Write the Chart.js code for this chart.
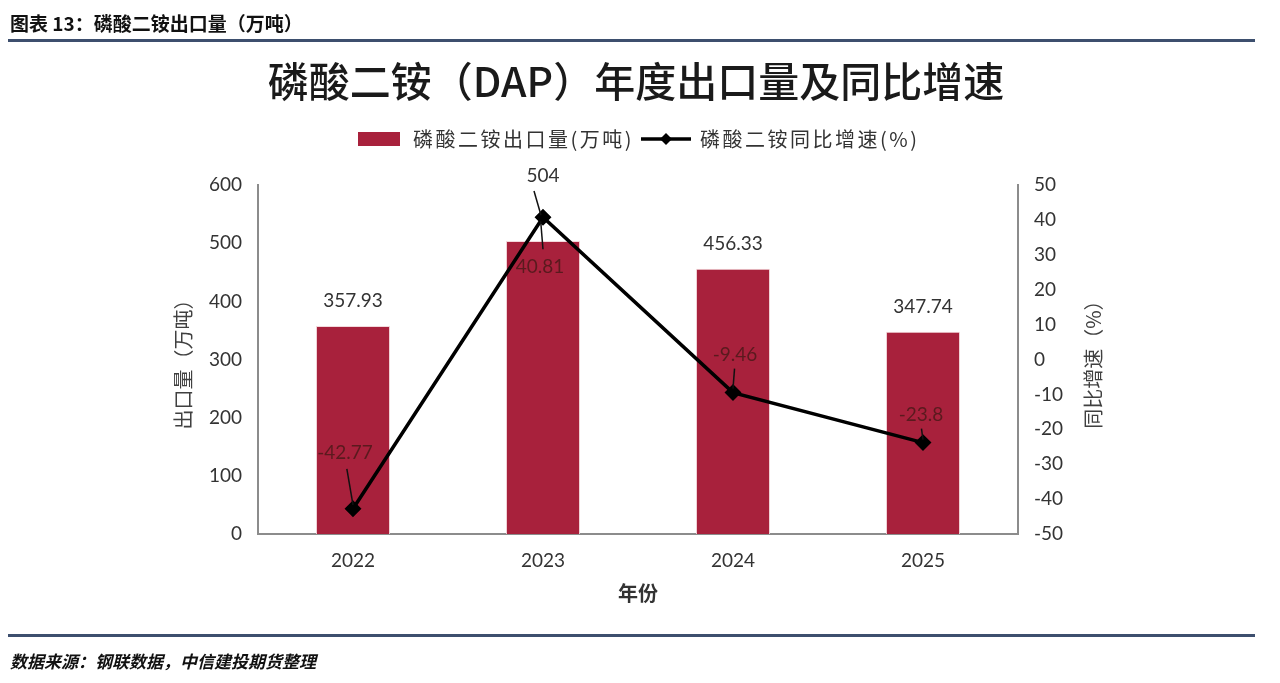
<!DOCTYPE html>
<html>
<head>
<meta charset="utf-8">
<script src="https://cdn.jsdelivr.net/npm/chart.js@4.4.1/dist/chart.umd.min.js"></script>
<style>
    body { margin: 0; background: #fff; }
    #wrap { position: relative; width: 1280px; height: 683px; overflow: hidden; }
    #chart { position: absolute; left: 0; top: 0; }
    .head {
        position: absolute; left: 10px; top: 9px;
        font: bold 19px "Noto Sans CJK SC", sans-serif; color: #111;
    }
    .rule { position: absolute; left: 8px; width: 1247px; height: 3px; background: #3d4f6e; }
    .foot {
        position: absolute; left: 10px; top: 648px;
        font: italic bold 17px "Noto Sans CJK SC", sans-serif; color: #111;
    }
</style>
</head>
<body>
<div id="wrap">
    <canvas id="chart" width="1280" height="683"></canvas>
    <div class="head">图表 13：磷酸二铵出口量（万吨）</div>
    <div class="rule" style="top:39px"></div>
    <div class="rule" style="top:634px"></div>
    <div class="foot">数据来源：钢联数据，中信建投期货整理</div>
</div>
<script>
const years = ['2022', '2023', '2024', '2025'];
const exportVolume = [357.93, 504, 456.33, 347.74];   // 万吨
const yoyGrowth = [-42.77, 40.81, -9.46, -23.8];       // %
const leftTicks = [0, 100, 200, 300, 400, 500, 600];
const rightTicks = [-50, -40, -30, -20, -10, 0, 10, 20, 30, 40, 50];

// label placement relative to the mark: [dx, dy, leader from dy, leader to dy]
const barLabelPos = [[0, -25], [0, -65, -50, -30], [0, -25], [0, -25]];
const lineLabelPos = [[-8, -56, -40, -4], [-3, 50, 4, 32], [2, -38, -24, -4], [-2, -28, -14, -3]];

const BAR_RED = '#a8213c';
const NUM_FONT = '"Lato", "Noto Sans", sans-serif';
const CJK_FONT = '"Noto Sans CJK SC", sans-serif';

const labelPlugin = {
    id: 'labels',
    afterDatasetsDraw(chart) {
        const ctx = chart.ctx;
        ctx.save();
        ctx.font = '19px ' + NUM_FONT;
        ctx.textAlign = 'center';
        ctx.textBaseline = 'middle';
        ctx.lineWidth = 1.5;

        chart.getDatasetMeta(0).data.forEach((bar, i) => {
            const p = barLabelPos[i];
            ctx.fillStyle = '#333';
            ctx.fillText(String(exportVolume[i]), bar.x + p[0], bar.y + p[1]);
            if (p.length > 2) {
                const pt = chart.getDatasetMeta(1).data[i];
                ctx.strokeStyle = '#111';
                ctx.beginPath();
                ctx.moveTo(pt.x - 9, bar.y + p[2]);
                ctx.lineTo(pt.x - 2, pt.y - 2);
                ctx.stroke();
            }
        });

        chart.getDatasetMeta(1).data.forEach((pt, i) => {
            const p = lineLabelPos[i];
            ctx.fillStyle = '#5a1a1e';
            ctx.fillText(String(yoyGrowth[i]), pt.x + p[0], pt.y + p[1]);
            ctx.strokeStyle = '#111';
            ctx.beginPath();
            ctx.moveTo(pt.x + p[0] / 1.3, pt.y + p[2]);
            ctx.lineTo(pt.x, pt.y + p[3]);
            ctx.stroke();
        });

        // right axis title, reading bottom to top like the left one
        const y1 = chart.scales.y1;
        ctx.save();
        ctx.translate(1093, (y1.top + y1.bottom) / 2);
        ctx.rotate(-Math.PI / 2);
        ctx.font = '20px ' + CJK_FONT;
        ctx.fillStyle = '#404040';
        ctx.fillText('同比增速（%）', 0, 0);
        ctx.restore();
        ctx.restore();
    }
};

const legendPlugin = {
    id: 'customLegend',
    afterDraw(chart) {
        const ctx = chart.ctx;
        const y = 139;
        ctx.save();
        ctx.font = '20px ' + CJK_FONT;
        ctx.letterSpacing = '2.5px';
        ctx.textBaseline = 'middle';
        ctx.fillStyle = BAR_RED;
        ctx.fillRect(358, y - 7, 42, 14);
        ctx.fillStyle = '#333';
        ctx.fillText(chart.data.datasets[0].label, 413, y);
        ctx.strokeStyle = '#000';
        ctx.lineWidth = 3.5;
        ctx.beginPath();
        ctx.moveTo(641, y);
        ctx.lineTo(691, y);
        ctx.stroke();
        ctx.fillStyle = '#000';
        ctx.beginPath();
        ctx.moveTo(666, y - 6);
        ctx.lineTo(672, y);
        ctx.lineTo(666, y + 6);
        ctx.lineTo(660, y);
        ctx.closePath();
        ctx.fill();
        ctx.fillStyle = '#333';
        ctx.fillText(chart.data.datasets[1].label, 700, y);
        ctx.restore();
    }
};

new Chart(document.getElementById('chart'), {
    type: 'bar',
    data: {
        labels: years,
        datasets: [{
            type: 'bar',
            label: '磷酸二铵出口量(万吨)',
            data: exportVolume,
            yAxisID: 'y',
            backgroundColor: BAR_RED,
            borderColor: '#f3d9dc',
            borderWidth: 1,
            barPercentage: 0.78,
            categoryPercentage: 0.5,
            order: 2
        }, {
            type: 'line',
            label: '磷酸二铵同比增速(%)',
            data: yoyGrowth,
            yAxisID: 'y1',
            borderColor: '#000',
            backgroundColor: '#000',
            borderWidth: 3.5,
            pointStyle: 'rectRot',
            pointRadius: 6,
            pointHoverRadius: 6,
            tension: 0,
            order: 1
        }]
    },
    plugins: [labelPlugin, legendPlugin],
    options: {
        responsive: false,
        animation: false,
        events: [],
        layout: { padding: { top: 50, left: 140, right: 148, bottom: 78 } },
        plugins: {
            legend: { display: false },
            tooltip: { enabled: false },
            title: {
                display: true,
                text: '磷酸二铵（DAP）年度出口量及同比增速',
                color: '#1a1a1a',
                font: { family: CJK_FONT, size: 41, weight: '500' },
                padding: { top: 7, bottom: 79 }
            }
        },
        scales: {
            x: {
                grid: { display: false, drawTicks: false },
                border: { color: '#8c8c8c', width: 2 },
                ticks: { color: '#333', padding: 15, font: { family: NUM_FONT, size: 19 } },
                title: {
                    display: true, text: '年份', color: '#333', padding: 0,
                    font: { family: CJK_FONT, size: 20, weight: 'bold' }
                },
                afterFit(s) { s.height = 71; }
            },
            y: {
                position: 'left',
                min: 0, max: 600,
                afterBuildTicks(s) { s.ticks = leftTicks.map(v => ({ value: v })); },
                grid: { display: false, drawTicks: false },
                border: { color: '#8c8c8c', width: 2 },
                ticks: { color: '#333', padding: 16, font: { family: NUM_FONT, size: 19 } },
                title: {
                    display: true, text: '出口量（万吨）', color: '#404040',
                    padding: { top: 31, bottom: 0 },
                    font: { family: CJK_FONT, size: 20 }
                },
                afterFit(s) { s.width = 118; }
            },
            y1: {
                position: 'right',
                min: -50, max: 50,
                afterBuildTicks(s) { s.ticks = rightTicks.map(v => ({ value: v })); },
                grid: { display: false, drawTicks: false },
                border: { color: '#8c8c8c', width: 2 },
                ticks: { color: '#333', padding: 16, font: { family: NUM_FONT, size: 19 } },
                afterFit(s) { s.width = 114; }
            }
        }
    }
});
</script>
</body>
</html>
